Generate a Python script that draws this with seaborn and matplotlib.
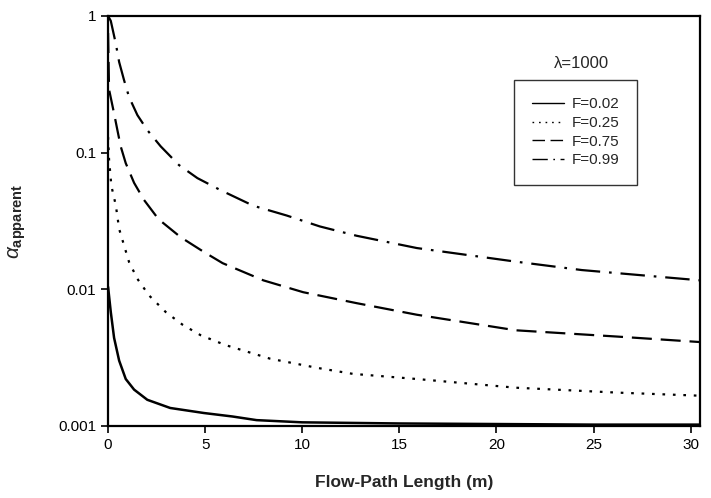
import numpy as np
import pandas as pd
import matplotlib
matplotlib.use("Agg")
import matplotlib.pyplot as plt
import seaborn as sns

# ---- data ----
x_f002 = [0.0, 0.14, 0.31, 0.57, 0.91, 1.34, 2.02, 3.2, 4.94, 6.4, 7.65, 10, 15, 20, 25, 30.5]
y_f002 = [0.0104, 0.0068, 0.0044, 0.0030, 0.0022, 0.00184, 0.00155, 0.00135, 0.00124, 0.00117,
          0.0011, 0.00106, 0.00104, 0.00103, 0.00102, 0.00102]

x_f025 = [0.0, 0.05, 0.17, 0.4, 0.57, 0.82, 1.08, 1.51, 2.11, 2.97, 3.83, 4.77, 6.04, 8.34,
          10.8, 12.6, 15.9, 21.0, 26.2, 30.5]
y_f025 = [0.13, 0.089, 0.057, 0.041, 0.0276, 0.021, 0.0158, 0.0119, 0.0090, 0.0068, 0.0055,
          0.0046, 0.0039, 0.0031, 0.00265, 0.0024, 0.0022, 0.0019, 0.00175, 0.00166]

x_f075 = [0.0, 0.05, 0.31, 0.48, 0.65, 0.91, 1.34, 1.85, 2.6, 3.74, 4.94, 5.9, 8.0, 10.05,
          12.8, 15.9, 21.0, 26.2, 30.5]
y_f075 = [0.75, 0.29, 0.193, 0.146, 0.111, 0.0836, 0.060, 0.045, 0.0325, 0.024, 0.0187, 0.0155,
          0.0116, 0.0095, 0.0079, 0.0065, 0.0050, 0.0045, 0.0041]

x_f099 = [0.0, 0.14, 0.40, 0.57, 0.82, 1.08, 1.51, 2.02, 2.71, 3.65, 4.6, 5.8, 7.48, 9.2,
          10.9, 12.8, 15.9, 21.0, 24.4, 30.5]
y_f099 = [1.0, 0.92, 0.625, 0.46, 0.34, 0.255, 0.188, 0.146, 0.111, 0.081, 0.065, 0.053, 0.0408,
          0.0346, 0.0288, 0.0246, 0.020, 0.0159, 0.0138, 0.0116]

series_labels = ["F=0.02", "F=0.25", "F=0.75", "F=0.99"]
y_ticks = [0.001, 0.01, 0.1, 1]
y_ticklabels = ["0.001", "0.01", "0.1", "1"]
x_ticks = [0, 5, 10, 15, 20, 25, 30]

sns.set_style("ticks")
plt.rcParams["font.family"] = ["Liberation Sans", "DejaVu Sans"]
plt.rcParams["mathtext.fontset"] = "custom"
plt.rcParams["mathtext.rm"] = "Liberation Sans"
plt.rcParams["mathtext.bf"] = "Liberation Sans:bold"
plt.rcParams["mathtext.it"] = "Liberation Sans:italic"

frames = []
for lab, xs, ys in zip(series_labels, [x_f002, x_f025, x_f075, x_f099],
                       [y_f002, y_f025, y_f075, y_f099]):
    frames.append(pd.DataFrame({"x": xs, "y": ys, "F": lab}))
df = pd.concat(frames, ignore_index=True)

fig = plt.figure(figsize=(7.11, 4.98), dpi=100)
ax = fig.add_axes([0.152, 0.145, 0.833, 0.823])

styles = {
    "F=0.02": dict(ls="-", lw=1.8),
    "F=0.25": dict(ls=(0, (1.2, 3.5)), lw=1.6),
    "F=0.75": dict(ls=(0, (9, 4)), lw=1.6),
    "F=0.99": dict(ls=(0, (11, 4, 1.2, 4)), lw=1.6),
}
for lab in series_labels:
    sub = df[df["F"] == lab]
    sns.lineplot(data=sub, x="x", y="y", ax=ax, color="black",
                 linestyle=styles[lab]["ls"], linewidth=styles[lab]["lw"],
                 label=lab, estimator=None, sort=False)

ax.set_yscale("log")
ax.set_ylim(0.001, 1)
ax.set_xlim(0, 30.5)
ax.set_yticks(y_ticks)
ax.set_yticklabels(y_ticklabels)
ax.yaxis.set_minor_locator(matplotlib.ticker.NullLocator())
ax.set_xticks(x_ticks)
ax.tick_params(axis="both", which="major", labelsize=11, direction="out",
               length=5, width=1.2, colors="black")
for sp in ax.spines.values():
    sp.set_visible(True)
    sp.set_linewidth(1.6)
    sp.set_color("black")

ax.set_xlabel("Flow-Path Length (m)", fontsize=12.5, fontweight="bold", labelpad=17)
ax.set_ylabel(r"$\alpha_{\mathbf{apparent}}$", fontsize=15, labelpad=22)

leg = ax.legend(loc="upper left", bbox_to_anchor=(0.686, 0.844), frameon=True,
                fontsize=11, handlelength=2.1, handletextpad=0.5,
                borderpad=1.15, borderaxespad=0, labelspacing=0.3, fancybox=False)
leg.get_frame().set_edgecolor("black")
leg.get_frame().set_linewidth(1.0)
for line in leg.get_lines():
    line.set_linewidth(1.0)
ax.text(0.80, 0.885, "λ=1000", transform=ax.transAxes, ha="center", va="center",
        fontsize=12)

fig.savefig("out.png", dpi=100)
